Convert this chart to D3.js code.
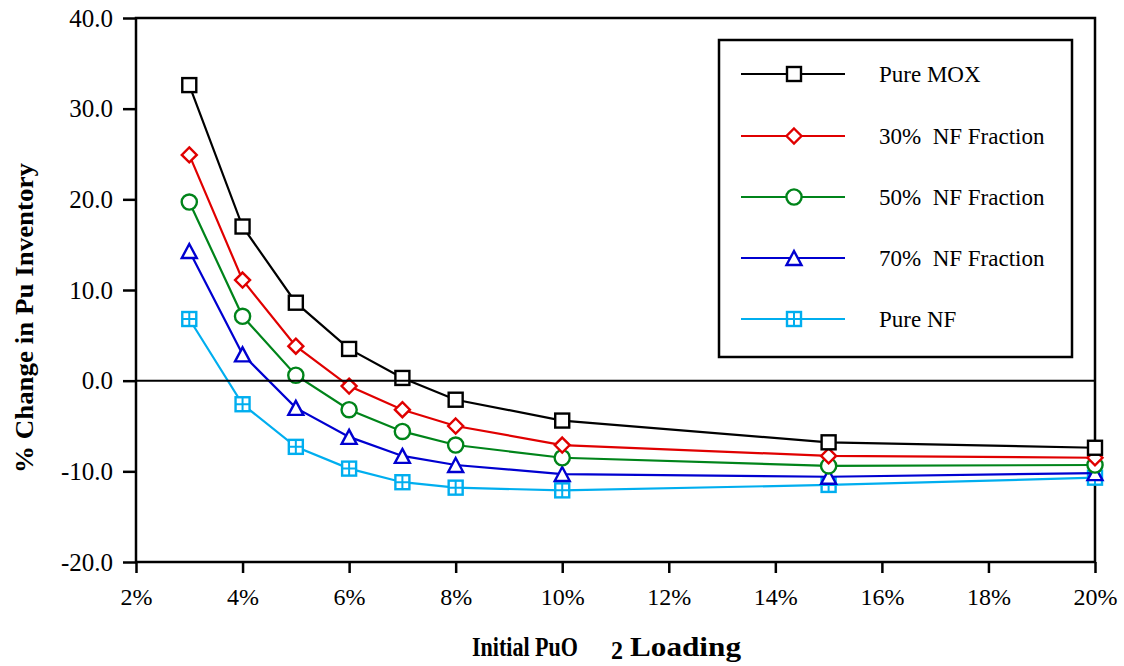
<!DOCTYPE html>
<html>
<head>
<meta charset="utf-8">
<script src="https://cdn.jsdelivr.net/npm/d3@7"></script>
<style>
  html, body { margin: 0; padding: 0; background: #fff; }
  svg { display: block; font-family: "Liberation Serif", "Times New Roman", Times, serif; }
  text { font-family: "Liberation Serif", "Times New Roman", Times, serif; fill: #000; }
</style>
</head>
<body>
<svg id="chart" width="1124" height="666"></svg>
<script>
// ---- data ----
const loadings = [3, 4, 5, 6, 7, 8, 10, 15, 20];           // Initial PuO2 loading (%)
const seriesNames = ["Pure MOX", "30%  NF Fraction", "50%  NF Fraction", "70%  NF Fraction", "Pure NF"];
const pureMOX   = [32.6, 17.0, 8.6, 3.5, 0.3, -2.1, -4.4, -6.8, -7.4];
const nf30      = [24.9, 11.1, 3.8, -0.6, -3.2, -5.0, -7.1, -8.3, -8.5];
const nf50      = [19.7, 7.1, 0.6, -3.2, -5.6, -7.1, -8.5, -9.4, -9.3];
const nf70      = [14.3, 2.9, -3.0, -6.2, -8.3, -9.3, -10.3, -10.6, -10.2];
const pureNF    = [6.8, -2.6, -7.3, -9.7, -11.2, -11.8, -12.1, -11.5, -10.7];
const xTicks = [2, 4, 6, 8, 10, 12, 14, 16, 18, 20];
const yTicks = [-20, -10, 0, 10, 20, 30, 40];

const seriesValues = [pureMOX, nf30, nf50, nf70, pureNF];
const colors = ["#000000", "#e00000", "#00841a", "#0000d0", "#00aeef"];
const markers = ["square", "diamond", "circle", "triangle", "squarecross"];
const SERIF = "Liberation Serif, Times New Roman, Times, serif";

const svg = d3.select("#chart");
const L = 136, R = 1095, T = 18, B = 562;
const x = d3.scaleLinear().domain([2, 20]).range([L, R]);
const y = d3.scaleLinear().domain([-20, 40]).range([B, T]);

// axes
const yAxis = svg.append("g").attr("transform", `translate(${L},0)`)
  .call(d3.axisLeft(y).tickValues(yTicks).tickFormat(d => d.toFixed(1)).tickSize(13).tickPadding(10));
const xAxis = svg.append("g").attr("transform", `translate(0,${B})`)
  .call(d3.axisBottom(x).tickValues(xTicks).tickFormat(d => d + "%").tickSize(11).tickPadding(15));
[yAxis, xAxis].forEach(g => {
  g.attr("font-family", SERIF).attr("font-size", null);
  g.select(".domain").remove();
  g.selectAll(".tick line").attr("stroke", "#000").attr("stroke-width", 2.5);
  g.selectAll(".tick text").attr("font-family", SERIF).attr("fill", "#000");
});
yAxis.selectAll(".tick text").attr("font-size", 25);
xAxis.selectAll(".tick text").attr("font-size", 24);

// frame
svg.append("rect").attr("x", L).attr("y", T).attr("width", R - L).attr("height", B - T)
  .attr("fill", "none").attr("stroke", "#000").attr("stroke-width", 2.5);

// marker drawing
function drawMarker(g, type, cx, cy, color) {
  const sw = 2.4;
  if (type === "square" || type === "squarecross") {
    const h = 7;
    g.append("rect").attr("x", cx - h).attr("y", cy - h).attr("width", 2 * h).attr("height", 2 * h)
      .attr("fill", "#fff").attr("stroke", color).attr("stroke-width", sw);
    if (type === "squarecross") {
      g.append("path").attr("d", `M${cx - h},${cy}H${cx + h}M${cx},${cy - h}V${cy + h}`)
        .attr("stroke", color).attr("stroke-width", sw - 0.4).attr("fill", "none");
    }
  } else if (type === "diamond") {
    const h = 7.5;
    g.append("path").attr("d", `M${cx},${cy - h}L${cx + h},${cy}L${cx},${cy + h}L${cx - h},${cy}Z`)
      .attr("fill", "#fff").attr("stroke", color).attr("stroke-width", sw);
  } else if (type === "circle") {
    g.append("circle").attr("cx", cx).attr("cy", cy).attr("r", 7.6)
      .attr("fill", "#fff").attr("stroke", color).attr("stroke-width", sw);
  } else if (type === "triangle") {
    const hw = 7.5, hh = 7;
    g.append("path").attr("d", `M${cx},${cy - hh}L${cx + hw},${cy + hh}L${cx - hw},${cy + hh}Z`)
      .attr("fill", "#fff").attr("stroke", color).attr("stroke-width", sw);
  }
}

// series (draw from last to first so Pure MOX is on top)
const line = d3.line().x(d => x(d[0])).y(d => y(d[1]));
for (let s = seriesValues.length - 1; s >= 0; s--) {
  const pts = loadings.map((l, i) => [l, seriesValues[s][i]]);
  const g = svg.append("g");
  g.append("path").datum(pts).attr("d", line).attr("fill", "none")
    .attr("stroke", colors[s]).attr("stroke-width", 2.2);
  pts.forEach(p => drawMarker(g, markers[s], x(p[0]), y(p[1]), colors[s]));
}

// zero line
svg.append("line").attr("x1", L).attr("x2", R).attr("y1", y(0)).attr("y2", y(0))
  .attr("stroke", "#000").attr("stroke-width", 2);

// legend
const lg = svg.append("g");
lg.append("rect").attr("x", 719).attr("y", 40).attr("width", 353).attr("height", 317)
  .attr("fill", "#fff").attr("stroke", "#000").attr("stroke-width", 2.5);
const rowY = [74, 136, 197, 258, 319];
seriesNames.forEach((name, i) => {
  lg.append("line").attr("x1", 741).attr("x2", 845).attr("y1", rowY[i]).attr("y2", rowY[i])
    .attr("stroke", colors[i]).attr("stroke-width", 2.2);
  drawMarker(lg, markers[i], 794, rowY[i], colors[i]);
  lg.append("text").attr("x", 879).attr("y", rowY[i] + 8).attr("xml:space", "preserve")
    .attr("font-family", SERIF).attr("font-size", 23)
    .style("white-space", "pre").text(name);
});

// axis titles
const xt = svg.append("g").attr("font-family", SERIF).attr("font-weight", "bold").attr("font-size", 27);
xt.append("text").attr("x", 472).attr("y", 656).attr("textLength", 106).attr("lengthAdjust", "spacingAndGlyphs").text("Initial PuO");
xt.append("text").attr("x", 611).attr("y", 659).attr("font-size", 25).attr("textLength", 12).attr("lengthAdjust", "spacingAndGlyphs").text("2");
xt.append("text").attr("x", 630).attr("y", 656).attr("textLength", 111).attr("lengthAdjust", "spacingAndGlyphs").text("Loading");

svg.append("text").attr("transform", "translate(33,318) rotate(-90)")
  .attr("text-anchor", "middle").attr("font-family", SERIF).attr("font-weight", "bold").attr("font-size", 25)
  .attr("textLength", 310).attr("lengthAdjust", "spacingAndGlyphs")
  .text("% Change in Pu Inventory");
</script>
</body>
</html>
